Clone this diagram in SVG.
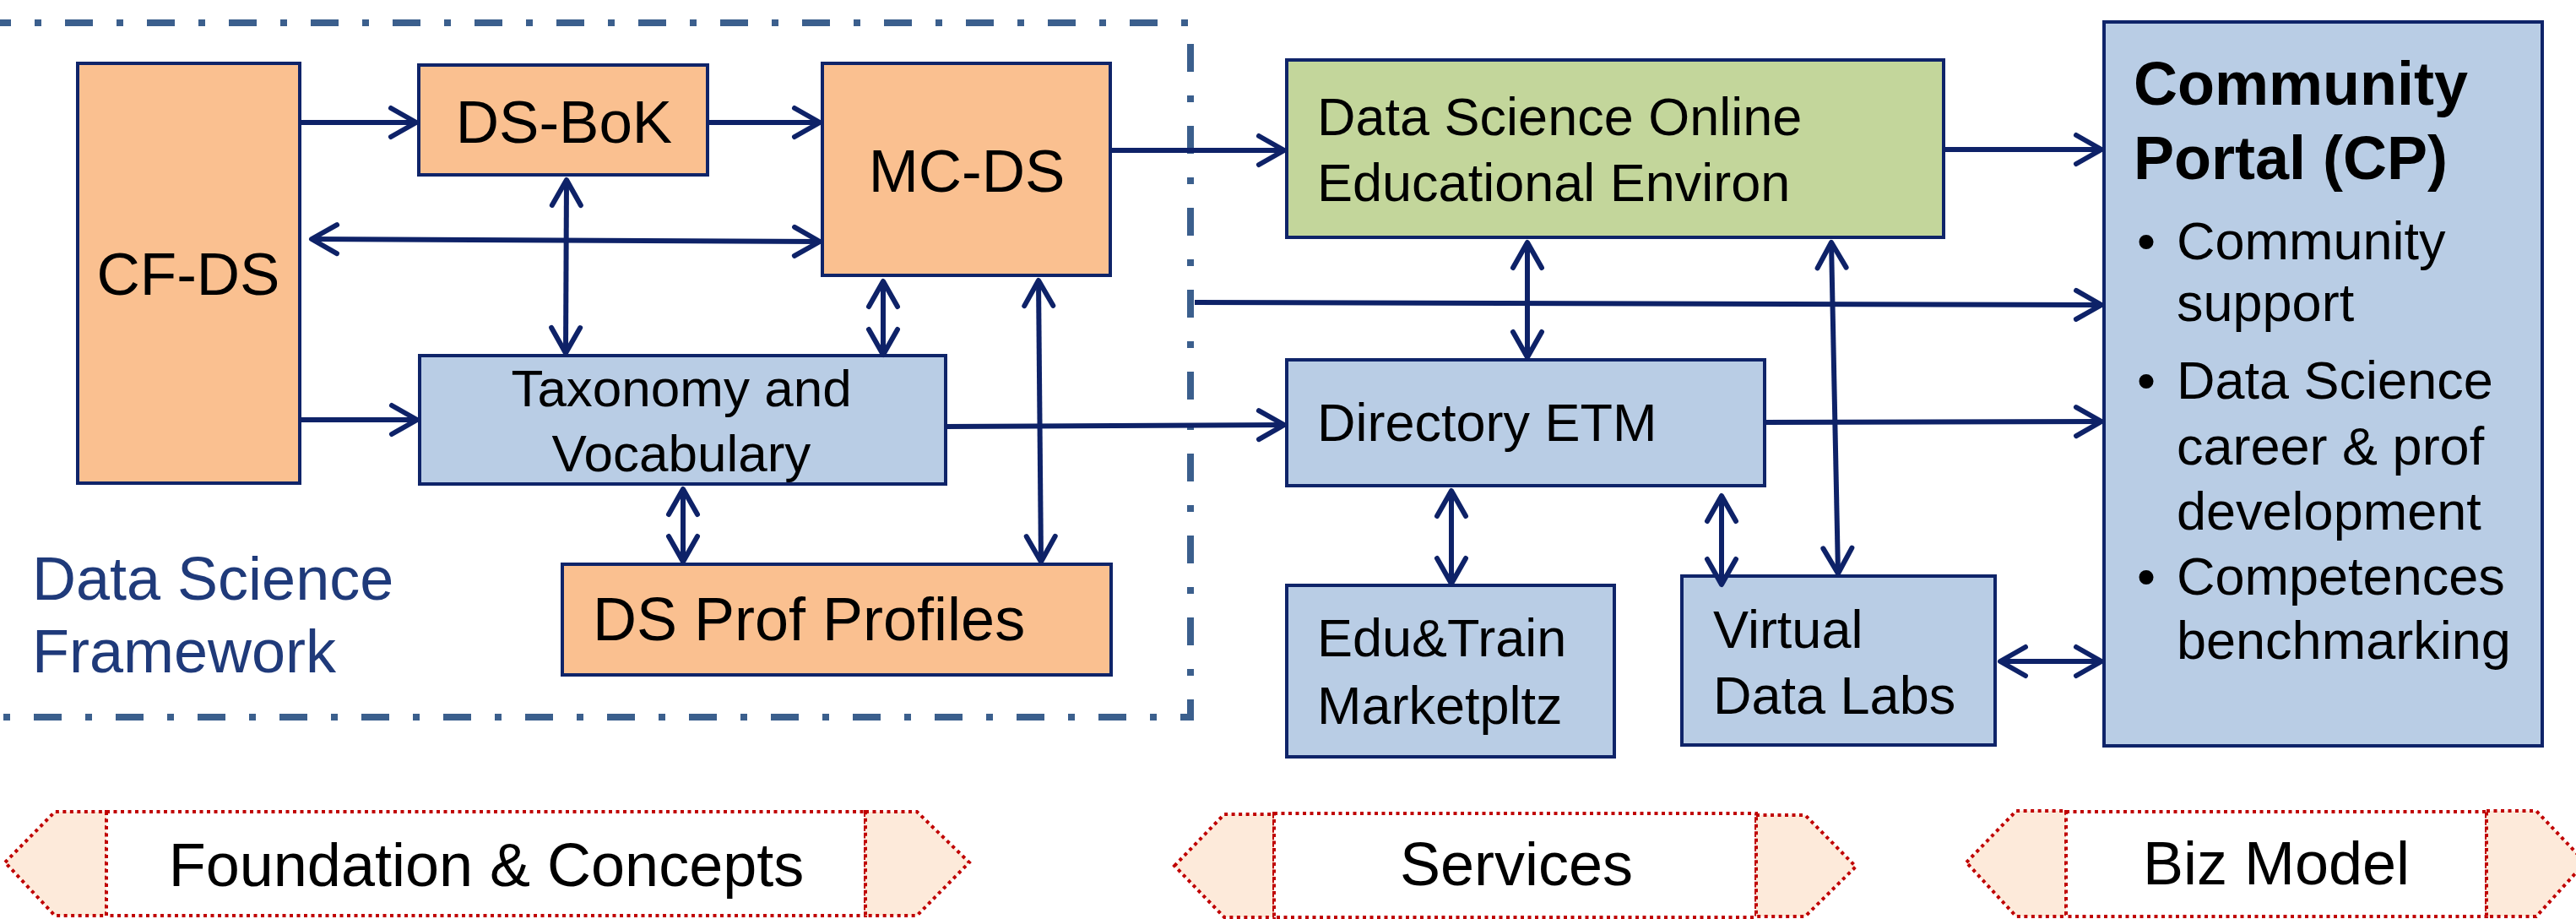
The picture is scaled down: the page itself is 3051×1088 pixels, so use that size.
<svg xmlns="http://www.w3.org/2000/svg" width="3051" height="1088" viewBox="0 0 3051 1088">
<style>
  text { font-family: "Liberation Sans", Arial, sans-serif; fill: #000; }
  .peach { fill: #FAC090; stroke: #0F2469; stroke-width: 4; }
  .blue { fill: #B9CDE5; stroke: #0F2469; stroke-width: 4; }
  .green { fill: #C3D69B; stroke: #0F2469; stroke-width: 4; }
  .conn { fill: none; stroke: #0E2268; stroke-width: 6; }
  .t72 { font-size: 71px; }
  .t63 { font-size: 63px; }
  .frame { fill: none; stroke: #3B5F8D; stroke-width: 8; stroke-dasharray: 33 28 8 28; }
  .band { stroke: #C00000; stroke-width: 4; stroke-dasharray: 4 4.5; }
  .side { fill: #FDEADA; }
  .mid { fill: #FFFFFF; }
  .bandtxt { font-size: 72px; text-anchor: middle; }
</style>
<defs>
  <marker id="arr" markerUnits="userSpaceOnUse" orient="auto-start-reverse" refX="0" refY="0" markerWidth="40" markerHeight="40" overflow="visible">
    <path d="M -30 -17 L 0 0 L -30 17" fill="none" stroke="#0E2268" stroke-width="6" stroke-linecap="round" stroke-linejoin="round"/>
  </marker>
</defs>
<rect x="0" y="0" width="3051" height="1088" fill="#FFFFFF"/>

<g id="framework">
  <path class="frame" d="M -20 27 H 1410 V 849 H -20"/>
  <text x="38" y="710" font-size="72" style="fill:#1F3A7A">Data Science</text>
  <text x="38" y="796" font-size="72" style="fill:#1F3A7A">Framework</text>
</g>

<g id="cf-ds">
  <rect class="peach" x="92" y="75" width="263" height="497"/>
  <text class="t72" x="223" y="349" text-anchor="middle">CF-DS</text>
</g>
<g id="ds-bok">
  <rect class="peach" x="496" y="77" width="342" height="130"/>
  <text class="t72" x="668" y="169" text-anchor="middle">DS-BoK</text>
</g>
<g id="mc-ds">
  <rect class="peach" x="974" y="75" width="341" height="251"/>
  <text class="t72" x="1145" y="227" text-anchor="middle">MC-DS</text>
</g>
<g id="taxonomy">
  <rect class="blue" x="497" y="421" width="623" height="152"/>
  <text x="807" y="481" font-size="62" text-anchor="middle">Taxonomy and</text>
  <text x="807" y="558" font-size="62" text-anchor="middle">Vocabulary</text>
</g>
<g id="ds-prof-profiles">
  <rect class="peach" x="666" y="668" width="650" height="131"/>
  <text x="702" y="758" font-size="72">DS Prof Profiles</text>
</g>

<g id="dsoee">
  <rect class="green" x="1524" y="71" width="778" height="210"/>
  <text class="t63" x="1560" y="160">Data Science Online</text>
  <text class="t63" x="1560" y="238">Educational Environ</text>
</g>
<g id="directory-etm">
  <rect class="blue" x="1524" y="426" width="566" height="149"/>
  <text class="t63" x="1560" y="522">Directory ETM</text>
</g>
<g id="edu-train">
  <rect class="blue" x="1524" y="693" width="388" height="203"/>
  <text class="t63" x="1560" y="777">Edu&amp;Train</text>
  <text class="t63" x="1560" y="857">Marketpltz</text>
</g>
<g id="virtual-data-labs">
  <rect class="blue" x="1992" y="682" width="371" height="200"/>
  <text class="t63" x="2029" y="767">Virtual</text>
  <text class="t63" x="2029" y="845">Data Labs</text>
</g>
<g id="community-portal">
  <rect class="blue" x="2492" y="26" width="519" height="857"/>
  <text x="2527" y="124" font-size="72" font-weight="bold">Community</text>
  <text x="2527" y="212" font-size="72" font-weight="bold">Portal (CP)</text>
  <text class="t63" x="2531" y="307">•</text>
  <text class="t63" x="2578" y="307">Community</text>
  <text class="t63" x="2578" y="380">support</text>
  <text class="t63" x="2531" y="472">•</text>
  <text class="t63" x="2578" y="472">Data Science</text>
  <text class="t63" x="2578" y="550">career &amp; prof</text>
  <text class="t63" x="2578" y="627">development</text>
  <text class="t63" x="2531" y="704">•</text>
  <text class="t63" x="2578" y="704">Competences</text>
  <text class="t63" x="2578" y="780">benchmarking</text>
</g>

<g id="connectors">
  <path class="conn" d="M 355 145 H 493" marker-end="url(#arr)"/>
  <path class="conn" d="M 838 145 H 971" marker-end="url(#arr)"/>
  <path class="conn" d="M 369 283 L 971 286" marker-start="url(#arr)" marker-end="url(#arr)"/>
  <path class="conn" d="M 671 213 L 670 418" marker-start="url(#arr)" marker-end="url(#arr)"/>
  <path class="conn" d="M 1046 333 V 420" marker-start="url(#arr)" marker-end="url(#arr)"/>
  <path class="conn" d="M 1230 332 L 1233 665" marker-start="url(#arr)" marker-end="url(#arr)"/>
  <path class="conn" d="M 355 497 H 494" marker-end="url(#arr)"/>
  <path class="conn" d="M 809 579 V 665" marker-start="url(#arr)" marker-end="url(#arr)"/>
  <path class="conn" d="M 1315 178 H 1521" marker-end="url(#arr)"/>
  <path class="conn" d="M 2302 177 H 2489" marker-end="url(#arr)"/>
  <path class="conn" d="M 1415 358 L 2489 361" marker-end="url(#arr)"/>
  <path class="conn" d="M 1120 505 L 1521 503" marker-end="url(#arr)"/>
  <path class="conn" d="M 2090 500 L 2489 499" marker-end="url(#arr)"/>
  <path class="conn" d="M 1809 287 V 423" marker-start="url(#arr)" marker-end="url(#arr)"/>
  <path class="conn" d="M 2169 287 L 2177 679" marker-start="url(#arr)" marker-end="url(#arr)"/>
  <path class="conn" d="M 1719 581 V 691" marker-start="url(#arr)" marker-end="url(#arr)"/>
  <path class="conn" d="M 2039 587 V 692" marker-start="url(#arr)" marker-end="url(#arr)"/>
  <path class="conn" d="M 2369 783 H 2489" marker-start="url(#arr)" marker-end="url(#arr)"/>
</g>

<g id="band-foundation">
  <polygon class="band side" points="6,1021 65,961 126,961 126,1084 65,1084"/>
  <rect class="band mid" x="126" y="961" width="899" height="123"/>
  <polygon class="band side" points="1025,961 1086,961 1148,1021 1086,1084 1025,1084"/>
  <text class="bandtxt" x="576" y="1049">Foundation &amp; Concepts</text>
</g>
<g id="band-services">
  <polygon class="band side" points="1391,1025 1450,964 1509,964 1509,1086 1450,1086"/>
  <rect class="band mid" x="1509" y="963" width="571" height="123"/>
  <polygon class="band side" points="2080,965 2138,965 2198,1026 2138,1085 2080,1085"/>
  <text class="bandtxt" x="1796" y="1048">Services</text>
</g>
<g id="band-biz">
  <polygon class="band side" points="2329,1021 2388,960 2447,960 2447,1085 2388,1085"/>
  <rect class="band mid" x="2447" y="961" width="498" height="124"/>
  <polygon class="band side" points="2945,960 3004,960 3062,1021 3004,1085 2945,1085"/>
  <text class="bandtxt" x="2696" y="1047">Biz Model</text>
</g>
</svg>
